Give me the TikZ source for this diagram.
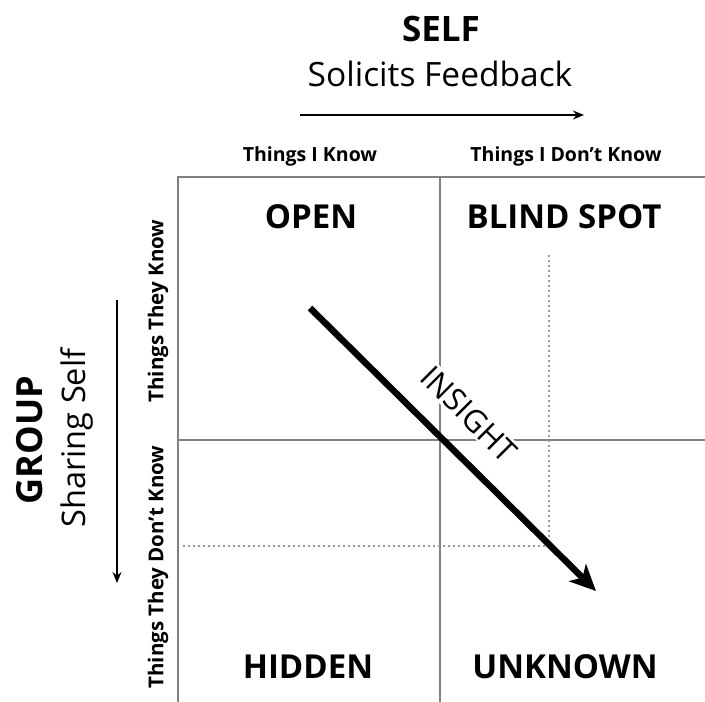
\documentclass[tikz,border=0pt]{standalone}
\usepackage{fontspec}
\setmainfont{Open Sans}
\usetikzlibrary{arrows.meta}
\begin{document}
\begin{tikzpicture}[x=1pt,y=-1pt,
  gridline/.style={draw=black!50,line width=1.6pt},
  dotline/.style={draw=black!40,line width=1.4pt,dash pattern=on 2pt off 3pt},
  quad/.style={font=\fontsize{33}{33}\selectfont\bfseries,inner sep=0pt},
  small/.style={font=\fontsize{19.5}{19.5}\selectfont\bfseries,inner sep=0pt},
  vsmall/.style={font=\fontsize{20.5}{20.5}\selectfont\bfseries,inner sep=0pt,rotate=90},
  thinarrow/.style={line width=1.8pt,-{Stealth[length=11pt,width=9pt]}},
  insightarrow/.style={line width=6.5pt,-{Stealth[length=26pt,width=24pt,inset=7pt]}}]
\useasboundingbox (0,0) rectangle (705,702);
% grid
\coordinate (tl) at (178,177);
\coordinate (tr) at (705,177);
\coordinate (bl) at (178,702);
\coordinate (mt) at (440,177);
\coordinate (mb) at (440,702);
\coordinate (ml) at (178,440);
\coordinate (mr) at (705,440);
\draw[gridline] (tr) -- (tl) -- (bl);
\draw[gridline] (mt) -- (mb);
\draw[gridline] (ml) -- (mr);
% dotted L
\coordinate (dt) at (549,255);
\coordinate (dc) at (549,546);
\coordinate (dl) at (181,546);
\draw[dotline] (dt) -- (dc) -- (dl);
% header
\node[font=\fontsize{35}{35}\selectfont\bfseries,inner sep=0pt] (self) at (441,29) {SELF};
\node[font=\fontsize{33.5}{33.5}\selectfont,inner sep=0pt] (sol) at (440,74) {Solicits Feedback};
\coordinate (sa) at (300,115);
\coordinate (sb) at (584,115);
\draw[thinarrow] (sa) -- (sb);
\node[small] (tik) at (310,156) {Things I Know};
\node[small] (tidk) at (566,156) {Things I Don't Know};
% quadrant labels
\node[quad] (open) at (311,217) {OPEN};
\node[quad] (blind) at (564,217) {BLIND SPOT};
\node[quad] (hidden) at (308,667) {HIDDEN};
\node[quad] (unknown) at (565,667) {UNKNOWN};
% left
\node[font=\fontsize{36}{36}\selectfont\bfseries,inner sep=0pt,rotate=90] (group) at (30,440) {GROUP};
\node[font=\fontsize{32.5}{32.5}\selectfont,inner sep=0pt,rotate=90] (share) at (77,438) {Sharing Self};
\coordinate (ga) at (117,300);
\coordinate (gb) at (117,583);
\draw[thinarrow] (ga) -- (gb);
\node[vsmall] (ttk) at (158,311) {Things They Know};
\node[vsmall] (ttdk) at (158,567) {Things They Don't Know};
% insight
\node[font=\fontsize{31}{31}\selectfont,fill=white,inner sep=2pt,rotate=-45] (ins) at (469,414) {INSIGHT};
\coordinate (ia) at (310,308);
\coordinate (ib) at (596,591);
\draw[insightarrow] (ia) -- (ib);
\end{tikzpicture}
\end{document}
